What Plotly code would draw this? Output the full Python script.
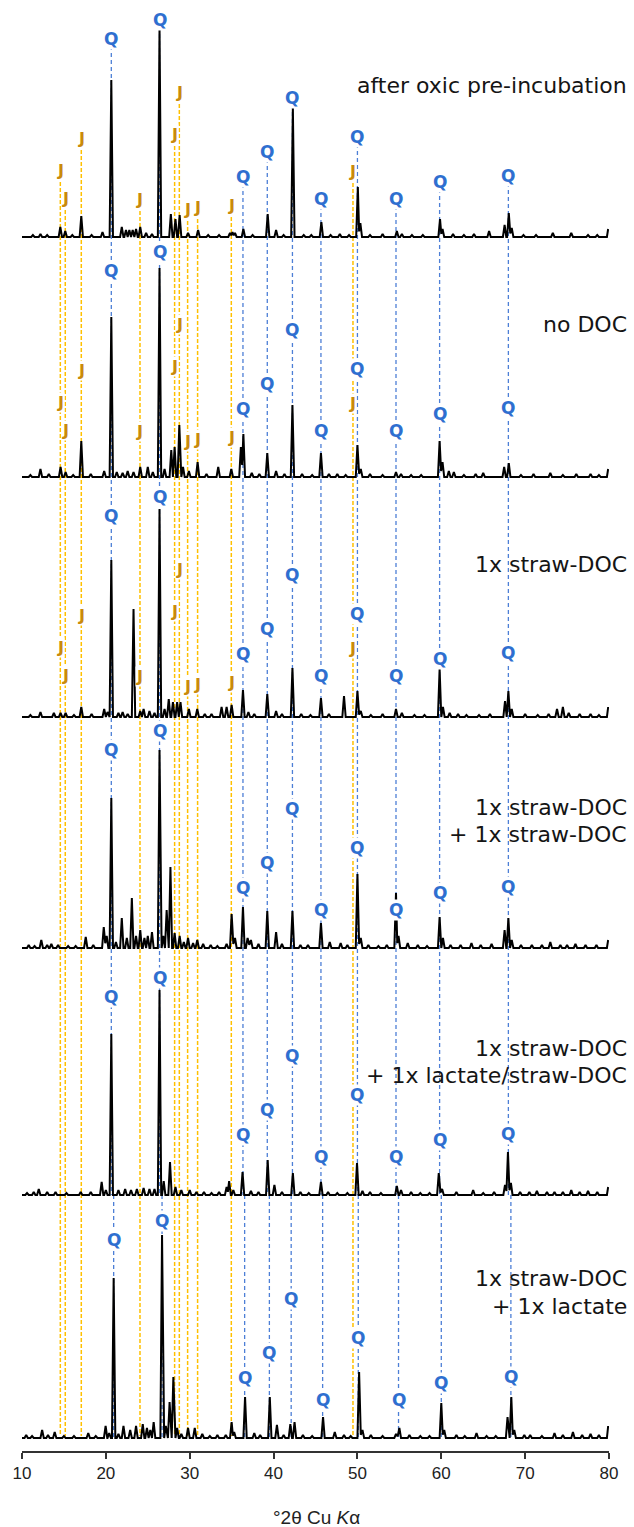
import plotly.graph_objects as go

# ---------------- data ----------------
SAMPLE_NAMES = [
    ["after oxic pre-incubation"],
    ["no DOC"],
    ["1x straw-DOC"],
    ["1x straw-DOC", "+ 1x straw-DOC"],
    ["1x straw-DOC", "+ 1x lactate/straw-DOC"],
    ["1x straw-DOC", "+ 1x lactate"],
]

# peaks (deg 2theta, intensity a.u.)
P1_PEAKS = [(11.3,2),(12.2,3),(13.0,2),(14.57,10),(15.16,6),(16.0,2),(17.07,21),(18.3,2),(19.6,5),(20.65,157),
            (21.9,10),(22.4,7),(22.8,7),(23.2,7),(23.6,8),(24.1,10),(24.8,4),(25.5,3),(26.4,209),(27.75,23),(28.3,18),
            (28.8,22),(29.8,4),(31.0,7),(32.2,2),(33.5,2),(34.8,4),(35.1,5),(35.4,4),(36.4,8),(37.5,2),(39.3,23),
            (40.3,7),(41.2,2),(42.3,129),(43.6,2),(44.5,2),(45.7,15),(46.8,2),(47.9,3),(49.0,2),(50.05,50),(50.35,14),
            (51.5,2),(53.0,3),(54.7,6),(55.3,3),(56.5,2),(57.8,2),(59.85,18),(60.15,8),(61.4,3),(62.7,2),(63.9,3),
            (65.7,6),(67.55,12),(68.05,24),(68.4,9),(69.8,2),(71.3,2),(73.3,4),(75.5,4),(77.5,2),(78.6,2)]
P2_PEAKS = [(11.0,2),(12.2,8),(13.2,3),(14.6,10),(15.2,5),(16.1,2),(17.07,36),(18.2,3),(19.8,6),(20.65,160),
            (21.3,5),(22.0,4),(22.6,6),(23.3,5),(24.1,10),(25.0,10),(25.6,5),(26.4,209),(27.0,8),(27.8,27),(28.2,30),
            (28.76,52),(29.2,10),(29.9,6),(30.94,15),(32.0,3),(33.4,10),(34.96,8),(36.1,30),(36.4,43),(37.4,4),
            (38.3,3),(39.25,24),(40.3,6),(41.3,3),(42.25,72),(43.4,3),(44.6,2),(45.65,24),(46.6,3),(47.6,3),(48.6,2),
            (50.0,32),(50.4,8),(51.5,3),(53.0,2),(54.6,5),(55.2,3),(56.4,2),(57.6,2),(59.8,36),(60.15,15),(60.9,6),
            (61.5,5),(62.7,2),(64.1,3),(65.0,4),(67.5,10),(68.05,14),(69.5,2),(71.0,3),(73.0,4),(74.5,2),(76.1,3),
            (77.8,3),(78.8,2)]
P3_PEAKS = [(11.0,2),(12.2,5),(13.8,4),(14.6,4),(15.2,4),(16.2,2),(17.07,10),(18.3,3),(19.8,8),(20.2,5),(20.65,157),
            (21.5,4),(22.0,5),(22.6,3),(23.3,108),(24.1,6),(24.5,8),(25.2,6),(25.8,4),(26.4,208),(27.0,8),(27.5,18),
            (28.0,15),(28.5,15),(28.9,15),(29.9,8),(30.9,8),(31.8,3),(32.6,3),(33.8,10),(34.4,10),(35.0,12),(36.35,27),
            (37.0,5),(37.7,3),(39.25,23),(40.3,6),(41.0,3),(42.25,49),(43.3,3),(44.4,2),(45.65,19),(46.6,3),(48.4,21),
            (50.0,26),(50.4,6),(51.6,2),(53.0,3),(54.6,8),(55.3,4),(56.8,2),(58.0,2),(59.8,48),(60.2,10),(61.0,4),
            (62.0,3),(63.0,2),(64.5,2),(65.8,3),(67.6,16),(68.0,26),(68.4,8),(70.0,3),(71.5,2),(72.8,3),(73.8,8),
            (74.5,10),(75.2,4),(76.5,3),(77.8,3),(78.8,2)]
P4_PEAKS = [(10.8,3),(11.5,2),(12.3,8),(13.0,3),(13.5,4),(14.3,3),(15.5,2),(16.4,2),(17.6,11),(18.5,3),(19.75,21),
            (20.1,12),(20.65,150),(21.2,6),(21.9,30),(22.5,10),(23.1,50),(23.6,12),(24.1,18),(24.6,10),(25.0,12),
            (25.5,16),(26.4,198),(26.85,12),(27.25,38),(27.7,81),(28.2,15),(28.8,12),(29.3,6),(29.8,10),(30.4,5),
            (30.9,8),(31.6,4),(32.5,3),(33.3,2),(34.4,4),(35.0,34),(35.4,10),(36.35,41),(36.9,10),(37.3,8),(38.2,4),
            (39.25,37),(40.3,16),(41.0,4),(42.25,37),(43.2,3),(44.1,3),(45.65,25),(46.7,6),(48.0,5),(48.8,3),(50.0,74),
            (50.4,10),(51.3,3),(52.5,2),(53.5,3),(54.6,55),(54.9,12),(56.0,5),(57.2,3),(58.3,2),(59.8,31),(60.2,10),
            (61.1,3),(62.3,3),(63.6,5),(64.7,3),(66.0,4),(67.55,18),(68.0,30),(68.4,8),(69.5,3),(70.8,3),(72.0,3),
            (73.0,6),(74.2,3),(75.0,3),(76.0,4),(77.2,3),(78.5,3)]
P5_PEAKS = [(10.6,2),(11.4,3),(12.0,6),(13.0,3),(14.0,3),(15.3,2),(17.0,3),(18.2,3),(19.5,13),(20.0,5),(20.65,161),
            (21.5,5),(22.3,6),(23.0,5),(23.7,6),(24.5,7),(25.2,6),(25.8,6),(26.4,205),(26.9,14),(27.65,33),(28.3,8),
            (29.0,5),(30.0,5),(30.8,3),(31.7,3),(32.6,2),(33.5,3),(34.4,8),(34.7,14),(35.2,5),(36.3,23),(37.3,4),
            (38.2,3),(39.3,35),(40.1,10),(41.0,3),(42.3,22),(43.2,3),(44.2,2),(45.65,13),(46.5,3),(47.6,2),(48.8,2),
            (49.95,32),(50.6,4),(51.5,3),(52.8,2),(54.7,9),(55.2,5),(56.4,3),(57.5,2),(58.6,2),(59.7,22),(60.1,6),
            (61.8,3),(63.8,5),(65.0,2),(66.3,3),(67.6,10),(67.95,43),(68.3,12),(69.4,3),(70.5,3),(71.4,4),(72.6,3),
            (73.5,3),(74.5,3),(75.5,5),(76.5,3),(77.5,4),(78.6,3)]
P6_PEAKS = [(10.5,3),(11.2,2),(12.4,8),(13.1,3),(13.9,6),(15.0,2),(16.2,2),(17.9,5),(18.8,2),(19.97,12),(20.4,5),
            (20.93,160),(21.5,4),(22.1,12),(22.9,8),(23.6,12),(24.4,14),(24.9,10),(25.3,8),(25.7,16),(26.7,203),
            (27.15,12),(27.6,36),(28.05,61),(28.5,10),(29.0,4),(29.8,10),(30.6,10),(31.5,4),(32.4,2),(33.3,3),(34.3,3),
            (35.0,16),(35.3,6),(36.6,41),(37.7,5),(38.4,3),(39.55,41),(40.4,13),(41.2,3),(42.0,14),(42.5,16),(43.5,3),
            (44.6,2),(45.9,21),(47.3,6),(48.4,3),(49.2,2),(50.2,66),(50.6,8),(51.6,3),(53.0,2),(54.6,4),(55.0,10),
            (56.2,3),(57.5,2),(58.6,2),(60.0,35),(60.35,8),(61.8,3),(62.8,2),(64.2,5),(65.4,2),(66.5,2),(67.9,21),
            (68.35,41),(68.7,8),(69.9,3),(70.6,3),(72.0,2),(73.5,5),(74.5,3),(75.7,6),(76.8,3),(77.8,4),(78.8,3)]
ALL_PEAKS = [P1_PEAKS, P2_PEAKS, P3_PEAKS, P4_PEAKS, P5_PEAKS, P6_PEAKS]
END_INTENSITY = [8, 8, 10, 8, 8, 12]

# phase reflections
Q_POS = [20.65, 26.4, 36.35, 39.25, 42.25, 45.65, 50.0, 54.6, 59.8, 68.0]
Q_POS_LAST = [20.93, 26.7, 36.55, 39.5, 42.1, 45.85, 50.1, 54.9, 60.0, 68.3]
J_POS = [14.57, 15.16, 17.07, 24.07, 28.2, 28.76, 29.75, 30.94, 34.96, 49.47]

X_TICKS = [10, 20, 30, 40, 50, 60, 70, 80]

# ---------------- layout constants ----------------
W, H = 634, 1527
ML, MR, MT, MB = 22, 25, 0, 76
PLOT_H = H - MT - MB          # 1451, y units = pixels
OFFSETS = [1214, 974, 734, 503, 256, 13]        # vertical stacking offsets
LABEL_BASE = [1214, 982, 737, 503, 256, 13]
Q_REL = [198, 217, 60, 85, 139, 38, 100, 38, 55, 61]
J_REL = [67, 39, 99, 38, 103, 145, 28, 30, 32, 66]
NAME_PX = [[85], [324], [564], [807, 834], [1048, 1075], [1278, 1306]]

BLUE_LINE = "#4d7fd6"
ORANGE_LINE = "#ffc000"
Q_COLOR = "#2e6fd0"
J_COLOR = "#c98a0c"

W_PEAK = 0.2


def profile(peaks, off, end_h):
    pk = sorted(peaks)
    verts = [(10.0, off)]
    for i, (p, h) in enumerate(pk):
        left = p - W_PEAK
        if i > 0 and left < verts[-1][0]:
            pp, ph = pk[i - 1]
            verts[-1] = ((p + pp) / 2, off + 0.4 * min(h, ph))
        else:
            verts.append((left, off))
        verts.append((p, off + h))
        verts.append((p + W_PEAK, off))
    verts.append((79.75, off))
    verts.append((79.9, off + end_h))
    return [v[0] for v in verts], [v[1] for v in verts]


fig = go.Figure()
for k, peaks in enumerate(ALL_PEAKS):
    xs, ys = profile(peaks, OFFSETS[k], END_INTENSITY[k])
    fig.add_trace(go.Scatter(x=xs, y=ys, mode="lines",
                             line=dict(color="black", width=2),
                             hoverinfo="skip", showlegend=False))

shapes = []
top = LABEL_BASE[0]
for i, q in enumerate(Q_POS):
    shapes.append(dict(type="line", xref="x", yref="y", x0=q, x1=q,
                       y0=top + Q_REL[i], y1=OFFSETS[4],
                       line=dict(color=BLUE_LINE, width=1.3, dash="4px,3px"), layer="below"))
    ql = Q_POS_LAST[i]
    shapes.append(dict(type="line", xref="x", yref="y", x0=ql, x1=ql,
                       y0=OFFSETS[4], y1=OFFSETS[5],
                       line=dict(color=BLUE_LINE, width=1.3, dash="4px,3px"), layer="below"))
for i, j in enumerate(J_POS):
    shapes.append(dict(type="line", xref="x", yref="y", x0=j, x1=j,
                       y0=top + J_REL[i], y1=15,
                       line=dict(color=ORANGE_LINE, width=1.5, dash="4px,2px"), layer="below"))

ann = []
for k in range(6):
    qpos = Q_POS_LAST if k == 5 else Q_POS
    for i, q in enumerate(qpos):
        ann.append(dict(x=q, y=LABEL_BASE[k] + Q_REL[i], xref="x", yref="y", text="Q",
                        showarrow=False, xanchor="center", yanchor="middle",
                        bgcolor="white", borderpad=0,
                        font=dict(family="DejaVu Sans", size=17, color=Q_COLOR, weight="bold")))
for k in range(3):
    for i, j in enumerate(J_POS):
        ann.append(dict(x=j, y=LABEL_BASE[k] + J_REL[i], xref="x", yref="y", text="J",
                        showarrow=False, xanchor="center", yanchor="middle",
                        bgcolor="white", borderpad=0,
                        font=dict(family="DejaVu Sans", size=16, color=J_COLOR, weight="bold")))

xr = (629 - ML) / (W - ML - MR)
for k, lines in enumerate(SAMPLE_NAMES):
    for t, py in zip(lines, NAME_PX[k]):
        ann.append(dict(x=xr, y=(PLOT_H - py) / PLOT_H, xref="paper", yref="paper", text=t,
                        showarrow=False, xanchor="right", yanchor="middle",
                        font=dict(family="DejaVu Sans", size=22, color="#151515")))

ann.append(dict(x=(317 - ML) / (W - ML - MR), y=(PLOT_H - 1517) / PLOT_H, xref="paper", yref="paper",
                text="°2θ Cu <i>K</i>α", showarrow=False, xanchor="center", yanchor="middle",
                font=dict(family="Liberation Sans", size=19, color="#222222")))

fig.update_layout(
    width=W, height=H,
    margin=dict(l=ML, r=MR, t=MT, b=MB),
    paper_bgcolor="white", plot_bgcolor="white",
    shapes=shapes, annotations=ann,
    showlegend=False,
    xaxis=dict(range=[10, 80], tickvals=X_TICKS, ticktext=[str(v) for v in X_TICKS],
               showline=True, linecolor="#333333", linewidth=1.5,
               ticks="outside", ticklen=6, tickwidth=1.5, tickcolor="#333333",
               tickfont=dict(family="Liberation Sans", size=17, color="#222222"),
               showgrid=False, zeroline=False),
    yaxis=dict(range=[0, PLOT_H], visible=False, showgrid=False, zeroline=False),
)

fig.write_html("out.html")
